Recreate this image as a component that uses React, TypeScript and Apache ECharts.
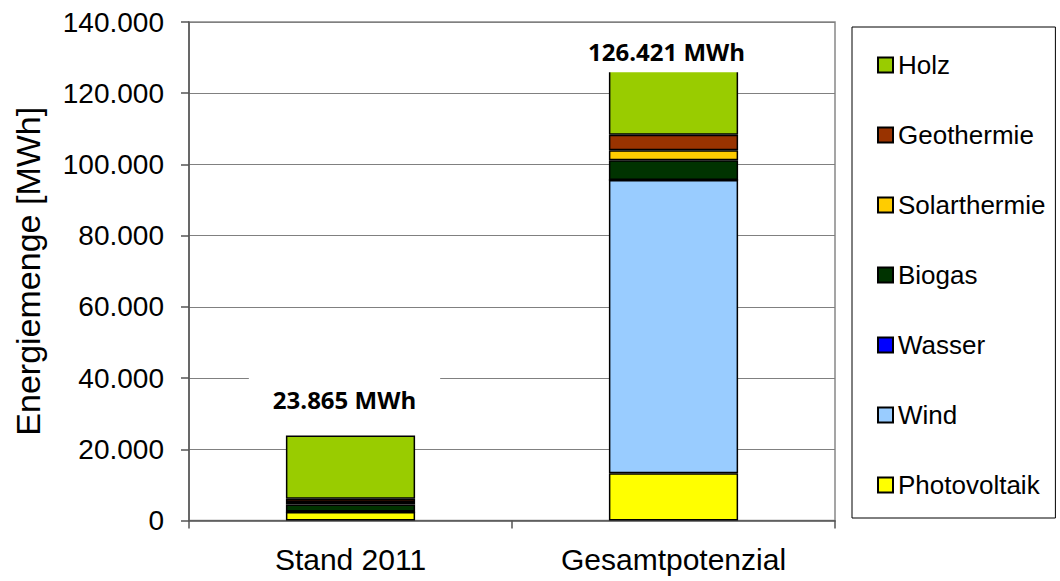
import React, { useEffect, useRef } from "react";
import * as echarts from "echarts";

const categories = ["Stand 2011", "Gesamtpotenzial"];
const photovoltaik = [2400, 13250];
const wind = [0, 82350];
const wasser = [100, 0];
const biogas = [2000, 5600];
const solarthermie = [700, 2800];
const geothermie = [900, 4300];
const holz = [17765, 18121];
const totals = [23865, 126421];
const yTicks = [0, 20000, 40000, 60000, 80000, 100000, 120000, 140000];

const fmt = (v: number) => {
  const s = String(Math.round(v));
  return s.replace(/\B(?=(\d{3})+(?!\d))/g, ".");
};

export default function App() {
  const ref = useRef<HTMLDivElement>(null);
  useEffect(() => {
    if (!ref.current) return;
    const chart = echarts.init(ref.current, null, { renderer: "svg" });
    const font = "'Liberation Sans', Arial, sans-serif";
    const border = { borderColor: "#000", borderWidth: 1.5 };
    const mk = (name: string, data: number[], color: string) => ({
      name,
      type: "bar",
      stack: "total",
      barWidth: "40%",
      data,
      itemStyle: { color, ...border },
    });
    const labelDist = [15, -2];
    const labelShiftX = [-6, -7];
    const holzSeries: any = mk("Holz", holz, "#99CC00");
    holzSeries.data = holz.map((v, i) => ({
      value: v,
      label: {
        show: true,
        position: "top",
        distance: labelDist[i],
        offset: [labelShiftX[i], 0],
        formatter: () => fmt(totals[i]) + " MWh",
      },
    }));
    holzSeries.label = {
      show: true,
      position: "top",
      fontFamily: "'Open Sans', sans-serif",
      fontWeight: "bold",
      fontSize: 24,
      lineHeight: 28,
      color: "#000",
      backgroundColor: "#fff",
      padding: [12, 24, 7, 24],
    };
    chart.setOption({
      animation: false,
      backgroundColor: "#fff",
      grid: {
        left: 189,
        right: 225,
        top: 22,
        bottom: 60.5,
        outerBoundsMode: "none",
        containLabel: false,
        show: true,
        borderColor: "#888",
        borderWidth: 1.5,
        backgroundColor: "transparent",
      },
      legend: {
        orient: "vertical",
        left: 852,
        top: 27,
        data: ["Holz", "Geothermie", "Solarthermie", "Biogas", "Wasser", "Wind", "Photovoltaik"],
        icon: "rect",
        itemWidth: 15,
        itemHeight: 15,
        itemGap: 40,
        itemTextGap: 8,
        padding: [23, 10, 18, 25],
        borderColor: "#000",
        borderWidth: 1,
        textStyle: { fontFamily: font, fontSize: 26, lineHeight: 30, color: "#000" },
        selectedMode: false,
      },
      xAxis: {
        type: "category",
        data: categories,
        axisLine: { lineStyle: { color: "#555", width: 1.5 } },
        axisTick: { show: true, length: 8, lineStyle: { color: "#555", width: 1.5 } },
        axisLabel: { fontFamily: font, fontSize: 30, color: "#000", margin: 24 },
      },
      yAxis: {
        type: "value",
        min: yTicks[0],
        max: yTicks[yTicks.length - 1],
        interval: yTicks[1] - yTicks[0],
        name: "Energiemenge [MWh]",
        nameLocation: "middle",
        nameGap: 144,
        nameTextStyle: { fontFamily: font, fontSize: 34, color: "#000" },
        axisLine: { show: true, lineStyle: { color: "#555", width: 1.5 } },
        axisTick: { show: true, length: 8, lineStyle: { color: "#555", width: 1.5 } },
        axisLabel: {
          fontFamily: font,
          fontSize: 28,
          color: "#000",
          margin: 25,
          formatter: (v: number) => fmt(v),
        },
        splitLine: { lineStyle: { color: "#808080", width: 1 } },
      },
      series: [
        mk("Photovoltaik", photovoltaik, "#FFFF00"),
        mk("Wind", wind, "#99CCFF"),
        mk("Wasser", wasser, "#0000FF"),
        mk("Biogas", biogas, "#003300"),
        mk("Solarthermie", solarthermie, "#FFCC00"),
        mk("Geothermie", geothermie, "#993300"),
        holzSeries,
      ],
    });
    return () => chart.dispose();
  }, []);
  return <div ref={ref} style={{ width: 1060, height: 581, position: "absolute", left: 0, top: 0 }} />;
}
